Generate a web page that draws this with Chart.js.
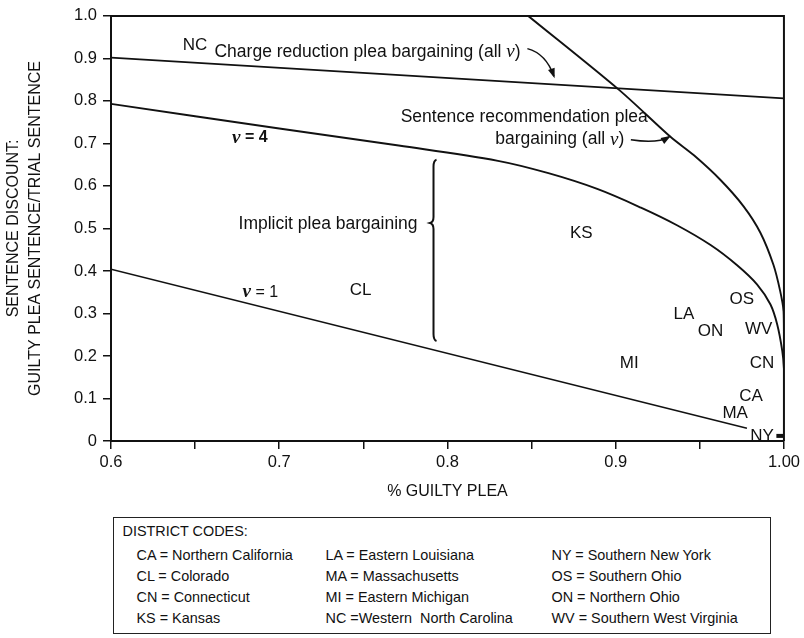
<!DOCTYPE html>
<html>
<head>
<meta charset="utf-8">
<title>Sentence discount vs guilty plea rate</title>
<script src="https://cdn.jsdelivr.net/npm/chart.js@4/dist/chart.umd.min.js"></script>
<style>
  body { margin: 0; background: #fff; }
  #page { position: relative; width: 804px; height: 638px; overflow: hidden; }
  #plot { position: absolute; left: 0; top: 0; }
  #codes { position: absolute; left: 113px; top: 517px; width: 656px; height: 115px;
           border: 1.5px solid #222; color: #111; font-size: 14.4px;
           font-family: "Liberation Sans", Arial, sans-serif; }
  #codes div { position: absolute; white-space: pre; line-height: 20px; }
</style>
</head>
<body>
<div id="page">
  <canvas id="plot" width="804" height="505"></canvas>
  <div id="codes"></div>
</div>
<script>
  const INK = '#111';
  const SANS = '"Liberation Sans", Arial, sans-serif';
  const SERIF = '"Liberation Serif", "Times New Roman", serif';

  //----- values -----
  const chargeX = [0.6, 1.0];
  const chargeY = [0.902, 0.806];

  const recommendX = [0.848, 0.902, 0.9327, 0.9465, 0.9623, 0.976, 0.986, 0.9938, 0.9978, 0.9998, 1.0, 1.0];
  const recommendY = [1.0, 0.826, 0.715, 0.672, 0.614, 0.552, 0.49, 0.414, 0.352, 0.305, 0.25, 0.12];

  const v4X = [0.6, 0.7, 0.771, 0.83, 0.86, 0.889, 0.915, 0.9367, 0.9564, 0.972, 0.9841, 0.992, 0.996, 0.999, 1.0, 1.0];
  const v4Y = [0.793, 0.735, 0.695, 0.659, 0.63, 0.593, 0.549, 0.507, 0.461, 0.414, 0.368, 0.321, 0.274, 0.212, 0.17, 0.13];

  const v1X = [0.6, 0.978];
  const v1Y = [0.404, 0.03];

  const nyMarkX = [0.9955, 1.0];
  const nyMarkY = [0.012, 0.012];

  const districtCodes = ['NC', 'KS', 'CL', 'LA', 'ON', 'OS', 'WV', 'MI', 'CN', 'CA', 'MA', 'NY'];
  const districtX = [0.650, 0.8795, 0.7483, 0.9406, 0.9564, 0.975, 0.985, 0.908, 0.987, 0.9805, 0.971, 0.987];
  const districtY = [0.930, 0.488, 0.354, 0.298, 0.259, 0.333, 0.263, 0.183, 0.183, 0.106, 0.064, 0.012];

  const xTickLabels = ['0.6', '0.7', '0.8', '0.9', '1.00'];
  const yTickLabels = ['0', '0.1', '0.2', '0.3', '0.4', '0.5', '0.6', '0.7', '0.8', '0.9', '1.0'];

  const legendCodes = ['CA', 'CL', 'CN', 'KS', 'LA', 'MA', 'MI', 'NC', 'NY', 'OS', 'ON', 'WV'];
  const legendNames = ['Northern California', 'Colorado', 'Connecticut', 'Kansas',
                       'Eastern Louisiana', 'Massachusetts', 'Eastern Michigan', 'Western  North Carolina',
                       'Southern New York', 'Southern Ohio', 'Northern Ohio', 'Southern West Virginia'];

  //----- where the notes sit (data units) -----
  const notes = {
    charge: { x: 0.6615, y: 0.914 },
    recommend1: { x: 0.7722, y: 0.762 },
    recommend2: { x: 0.8284, y: 0.709 },
    implicit: { x: 0.729, y: 0.5105 },
    v4: { x: 0.6825, y: 0.713 },
    v1: { x: 0.6888, y: 0.3497 },
    brace: { x: 0.7917, top: 0.662, cusp: 0.5128, bottom: 0.2354 },
    arrow1: [[0.8475, 0.923], [0.8586, 0.9114], [0.8633, 0.8578]],
    arrow2: [[0.909, 0.7086], [0.9249, 0.699], [0.9318, 0.7156]]
  };

  function pts(xs, ys) {
    return xs.map((v, i) => ({ x: v, y: ys[i] }));
  }

  function curve(xs, ys, width, tension) {
    return {
      data: pts(xs, ys),
      showLine: true,
      borderColor: INK,
      borderWidth: width,
      pointRadius: 0,
      tension: tension,
      fill: false
    };
  }

  function drawRich(ctx, parts, px, py, center) {
    let w = 0;
    parts.forEach(p => { ctx.font = p[1]; w += ctx.measureText(p[0]).width; });
    let cx = center ? px - w / 2 : px;
    parts.forEach(p => {
      ctx.font = p[1];
      ctx.fillText(p[0], cx, py);
      cx += ctx.measureText(p[0]).width;
    });
  }

  function drawArrow(ctx, x, y, a) {
    const p = a.map(q => [x.getPixelForValue(q[0]), y.getPixelForValue(q[1])]);
    ctx.beginPath();
    ctx.moveTo(p[0][0], p[0][1]);
    ctx.quadraticCurveTo(p[1][0], p[1][1], p[2][0], p[2][1]);
    ctx.lineWidth = 1.5;
    ctx.stroke();
    const ang = Math.atan2(p[2][1] - p[1][1], p[2][0] - p[1][0]);
    ctx.beginPath();
    ctx.moveTo(p[2][0] + 2 * Math.cos(ang), p[2][1] + 2 * Math.sin(ang));
    ctx.lineTo(p[2][0] - 8 * Math.cos(ang) + 3.5 * Math.sin(ang), p[2][1] - 8 * Math.sin(ang) - 3.5 * Math.cos(ang));
    ctx.lineTo(p[2][0] - 8 * Math.cos(ang) - 3.5 * Math.sin(ang), p[2][1] - 8 * Math.sin(ang) + 3.5 * Math.cos(ang));
    ctx.closePath();
    ctx.fill();
  }

  const notesPlugin = {
    id: 'notes',
    afterDatasetsDraw(chart) {
      const { ctx, chartArea: a } = chart;
      const x = chart.scales.x, y = chart.scales.y;
      const px = v => x.getPixelForValue(v), py = v => y.getPixelForValue(v);
      const sans = '17.5px ' + SANS;
      const ital = 'italic 19px ' + SERIF;
      const italB = 'italic bold 19px ' + SERIF;
      ctx.save();
      ctx.strokeStyle = INK;
      ctx.fillStyle = INK;

      // top and right frame
      ctx.lineWidth = 2;
      ctx.beginPath();
      ctx.moveTo(a.left, a.top);
      ctx.lineTo(a.right, a.top);
      ctx.lineTo(a.right, a.bottom);
      ctx.stroke();

      // district codes
      ctx.textBaseline = 'middle';
      ctx.textAlign = 'center';
      ctx.font = '17px ' + SANS;
      districtCodes.forEach((c, i) => ctx.fillText(c, px(districtX[i]), py(districtY[i])));

      ctx.textAlign = 'left';
      drawRich(ctx, [['Charge reduction plea bargaining (all ', sans], ['v', ital], [')', sans]],
        px(notes.charge.x), py(notes.charge.y), false);
      drawRich(ctx, [['Sentence recommendation plea', sans]],
        px(notes.recommend1.x), py(notes.recommend1.y), false);
      drawRich(ctx, [['bargaining (all ', sans], ['v', ital], [')', sans]],
        px(notes.recommend2.x), py(notes.recommend2.y), false);
      drawRich(ctx, [['Implicit plea bargaining', sans]], px(notes.implicit.x), py(notes.implicit.y), true);
      drawRich(ctx, [['v', italB], [' = 4', 'bold 16px ' + SANS]], px(notes.v4.x), py(notes.v4.y), true);
      drawRich(ctx, [['v', italB], [' = 1', '16px ' + SANS]], px(notes.v1.x), py(notes.v1.y), true);

      // brace
      const b = notes.brace;
      const bx = px(b.x), t = py(b.top), c = py(b.cusp), bt = py(b.bottom);
      ctx.lineWidth = 2;
      ctx.beginPath();
      ctx.moveTo(bx + 3, t);
      ctx.quadraticCurveTo(bx, t + 1, bx, t + 7);
      ctx.lineTo(bx, c - 6);
      ctx.quadraticCurveTo(bx, c - 1, bx - 3.5, c);
      ctx.quadraticCurveTo(bx, c + 1, bx, c + 6);
      ctx.lineTo(bx, bt - 7);
      ctx.quadraticCurveTo(bx, bt - 1, bx + 3, bt);
      ctx.stroke();

      drawArrow(ctx, x, y, notes.arrow1);
      drawArrow(ctx, x, y, notes.arrow2);
      ctx.restore();
    }
  };

  const isTenth = v => Math.abs(Math.round(v * 10) - v * 10) < 1e-6;

  new Chart(document.getElementById('plot'), {
    type: 'scatter',
    data: {
      datasets: [
        curve(chargeX, chargeY, 1.8, 0),
        curve(recommendX, recommendY, 1.9, 0.3),
        curve(v4X, v4Y, 1.9, 0.35),
        curve(v1X, v1Y, 1.6, 0),
        curve(nyMarkX, nyMarkY, 4, 0)
      ]
    },
    options: {
      responsive: false,
      animation: false,
      layout: { padding: { top: 12, right: 17, left: 0, bottom: 0 } },
      plugins: { legend: { display: false }, tooltip: { enabled: false } },
      scales: {
        x: {
          type: 'linear',
          min: 0.6,
          max: 1.0,
          afterFit: s => { s.height = 64; },
          ticks: {
            stepSize: 0.05,
            autoSkip: false,
            maxRotation: 0,
            padding: 4,
            color: INK,
            font: { family: SANS, size: 16.5 },
            callback: (v, i) => isTenth(v) ? xTickLabels[Math.round((v - 0.6) * 10)] : ''
          },
          grid: { drawOnChartArea: false, tickLength: 8, color: INK, lineWidth: 1.5 },
          border: { color: INK, width: 2 },
          title: {
            display: true,
            text: '% GUILTY PLEA',
            color: INK,
            font: { family: SANS, size: 16 },
            padding: { top: 0, bottom: 4 }
          }
        },
        y: {
          min: 0,
          max: 1,
          afterFit: s => { s.width = 111; },
          ticks: {
            stepSize: 0.1,
            padding: 6,
            color: INK,
            font: { family: SANS, size: 16.5 },
            callback: (v, i) => yTickLabels[i]
          },
          grid: { drawOnChartArea: false, tickLength: 8, color: INK, lineWidth: 1.5 },
          border: { color: INK, width: 2 },
          title: {
            display: true,
            text: ['SENTENCE DISCOUNT:', 'GUILTY PLEA SENTENCE/TRIAL SENTENCE'],
            color: INK,
            font: { family: SANS, size: 16, lineHeight: 22 / 16 },
            padding: { top: 3, bottom: 0 }
          }
        }
      }
    },
    plugins: [notesPlugin]
  });

  //district code key under the chart
  const box = document.getElementById('codes');
  function addLine(text, left, top) {
    const d = document.createElement('div');
    d.textContent = text;
    d.style.left = left + 'px';
    d.style.top = top + 'px';
    box.appendChild(d);
  }
  addLine('DISTRICT CODES:', 8.5, 3);
  const colLeft = [22.5, 211.5, 437.5];
  const rowTop = [26.5, 47.6, 68.7, 89.8];
  legendCodes.forEach((code, i) => {
    const sep = code === 'NC' ? ' =' : ' = ';
    addLine(code + sep + legendNames[i], colLeft[Math.floor(i / 4)], rowTop[i % 4]);
  });
</script>
</body>
</html>
